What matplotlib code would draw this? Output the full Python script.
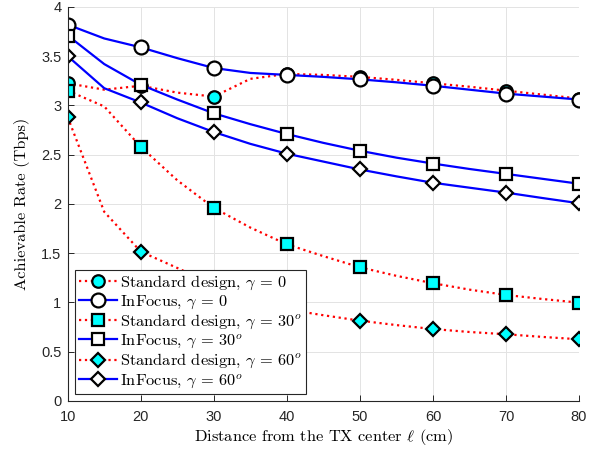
import matplotlib
matplotlib.use("Agg")
import matplotlib.pyplot as plt

plt.rcParams['mathtext.fontset'] = 'cm'
plt.rcParams['axes.unicode_minus'] = False
plt.rcParams['font.family'] = ['Liberation Sans', 'DejaVu Sans']

x = [10, 15, 20, 25, 30, 35, 40, 45, 50, 55, 60, 65, 70, 75, 80]

std_g0 = [3.225, 3.16, 3.20, 3.13, 3.09, 3.27, 3.32, 3.31, 3.29, 3.26, 3.225, 3.19, 3.15, 3.11, 3.07]
inf_g0 = [3.82, 3.68, 3.59, 3.48, 3.38, 3.33, 3.31, 3.29, 3.265, 3.235, 3.20, 3.16, 3.12, 3.09, 3.06]
std_g30 = [3.15, 2.99, 2.58, 2.24, 1.96, 1.76, 1.59, 1.47, 1.357, 1.27, 1.195, 1.13, 1.076, 1.035, 0.998]
inf_g30 = [3.71, 3.42, 3.21, 3.06, 2.92, 2.81, 2.71, 2.62, 2.54, 2.47, 2.41, 2.355, 2.305, 2.255, 2.205]
std_g60 = [2.88, 1.92, 1.516, 1.35, 1.18, 1.04, 0.93, 0.87, 0.815, 0.77, 0.73, 0.70, 0.677, 0.65, 0.626]
inf_g60 = [3.50, 3.175, 3.03, 2.87, 2.73, 2.61, 2.51, 2.43, 2.35, 2.28, 2.215, 2.165, 2.115, 2.06, 2.007]

labels = [r'Standard design, $\gamma\,=\,0$', r'InFocus, $\gamma\,=\,0$',
          r'Standard design, $\gamma\,=\,30^o$', r'InFocus, $\gamma\,=\,30^o$',
          r'Standard design, $\gamma\,=\,60^o$', r'InFocus, $\gamma\,=\,60^o$']
xticks = [10, 20, 30, 40, 50, 60, 70, 80]
yticks = [0, 0.5, 1, 1.5, 2, 2.5, 3, 3.5, 4]
yticklabels = ['0', '0.5', '1', '1.5', '2', '2.5', '3', '3.5', '4']

fig = plt.figure(figsize=(6.03, 4.51), dpi=100)
ax = fig.add_axes([0.1123, 0.111, 0.8480, 0.8736])

series = [
    (std_g0, 'red', ':', 'o', 'cyan', 9, labels[0]),
    (inf_g0, 'blue', '-', 'o', 'white', 10, labels[1]),
    (std_g30, 'red', ':', 's', 'cyan', 8, labels[2]),
    (inf_g30, 'blue', '-', 's', 'white', 8, labels[3]),
    (std_g60, 'red', ':', 'D', 'cyan', 7.5, labels[4]),
    (inf_g60, 'blue', '-', 'D', 'white', 7.5, labels[5]),
]
for ys, col, ls, mk, fc, ms, lab in series:
    ax.plot(x, ys, color=col, linestyle=ls, linewidth=1.6, marker=mk,
            markevery=2, markerfacecolor=fc, markeredgecolor='black',
            markeredgewidth=1.6, markersize=ms, label=lab)

ax.set_xlim(10, 80)
ax.set_ylim(0, 4)
ax.set_xticks(xticks)
ax.set_yticks(yticks)
ax.set_yticklabels(yticklabels)
ax.grid(True, color='#e3e3e3', linewidth=0.7)
ax.set_axisbelow(True)
for s in ['top', 'right']:
    ax.spines[s].set_visible(False)
for s in ['left', 'bottom']:
    ax.spines[s].set_color('#262626')
    ax.spines[s].set_linewidth(0.8)
ax.tick_params(direction='in', length=4, width=0.7, color='#262626',
               labelsize=10.5, labelcolor='#262626')
ax.tick_params(axis='x', pad=6.5)
ax.tick_params(axis='y', pad=4.5)

ax.set_xlabel(r'Distance from the TX center $\ell$ (cm)', fontsize=11.8,
              fontfamily='cmr10', labelpad=2)
ax.set_ylabel('Achievable Rate (Tbps)', fontsize=11.8, fontfamily='cmr10', labelpad=8)

leg = ax.legend(loc='lower left', bbox_to_anchor=(0.0143, 0.0178), borderaxespad=0,
                prop={'family': 'cmr10', 'size': 11.8}, fancybox=False,
                framealpha=1, edgecolor='#262626', handlelength=2.3,
                handletextpad=0.2, labelspacing=0.1, borderpad=0.25)
leg.get_frame().set_linewidth(0.8)

fig.savefig('out.png', dpi=100)
